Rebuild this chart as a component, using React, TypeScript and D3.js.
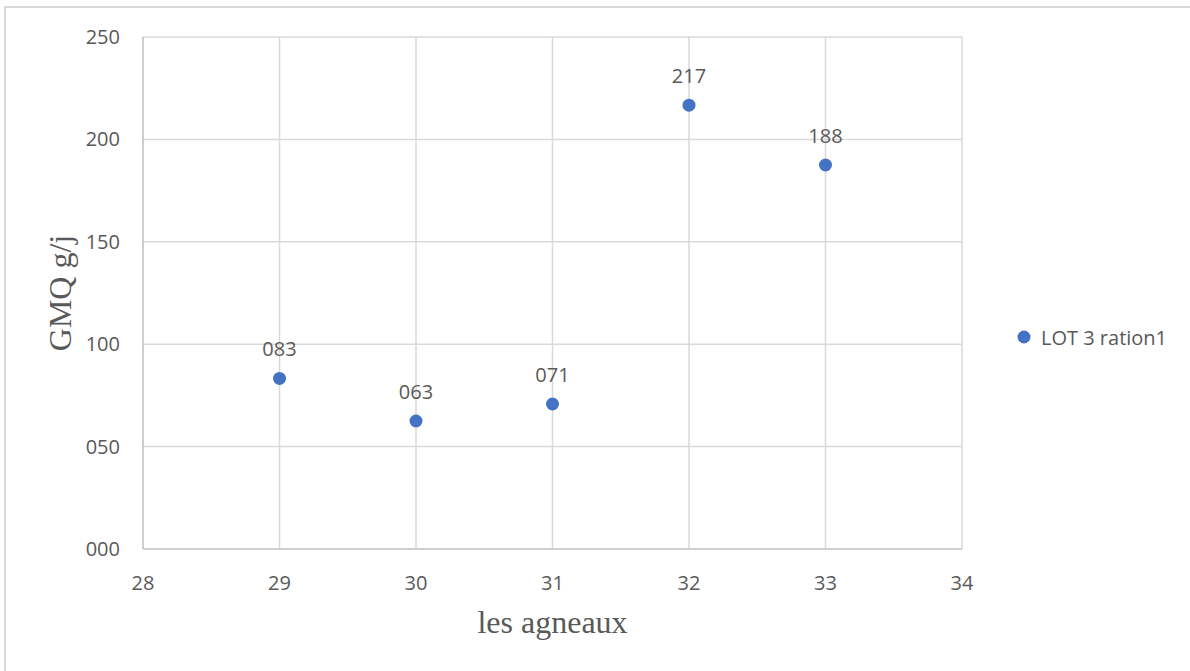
import React from "react";
import * as d3 from "d3";

const xValues = [29, 30, 31, 32, 33];
const yValues = [83.3, 62.5, 70.8, 216.7, 187.5];
const xTicks = [28, 29, 30, 31, 32, 33, 34];
const yTicks = [0, 50, 100, 150, 200, 250];
const seriesName = "LOT 3 ration1";
const xTitle = "les agneaux";
const yTitle = "GMQ g/j";

export default function App() {
  const W = 1190, H = 671;
  const left = 143, right = 962, top = 37, bottom = 549;
  const x = d3.scaleLinear().domain([28, 34]).range([left, right]);
  const y = d3.scaleLinear().domain([0, 250]).range([bottom, top]);
  const fmt = d3.format("03.0f");
  const grid = "#d9d9d9";
  const txt = "#595959";
  const sans = "'Open Sans', 'Noto Sans', sans-serif";
  const serif = "'Liberation Serif', 'Times New Roman', serif";
  const blue = "#4472C4";
  return (
    <svg width={W} height={H} style={{ position: "absolute", left: 0, top: 0, background: "#fff" }}>
      <rect x={5} y={7} width={W + 20} height={H + 20} fill="#fff" stroke="#d9d9d9" strokeWidth={2} />
      {yTicks.map((t) => (
        <g key={"y" + t}>
          <line x1={left} x2={right} y1={y(t)} y2={y(t)} stroke={t === 0 ? "#bfbfbf" : grid} strokeWidth={1.5} />
          <text x={120} y={y(t) + 7} textAnchor="end" fontFamily={sans} fontSize={20} fill={txt}>
            {fmt(t)}
          </text>
        </g>
      ))}
      {xTicks.map((t) => (
        <g key={"x" + t}>
          <line x1={x(t)} x2={x(t)} y1={top} y2={bottom} stroke={t === 28 ? "#bfbfbf" : grid} strokeWidth={1.5} />
          <text x={x(t)} y={590} textAnchor="middle" fontFamily={sans} fontSize={20} fill={txt}>
            {t}
          </text>
        </g>
      ))}
      {xValues.map((xv, i) => (
        <g key={"p" + i}>
          <circle cx={x(xv)} cy={y(yValues[i])} r={6.5} fill={blue} />
          <text x={x(xv)} y={y(yValues[i]) - 22} textAnchor="middle" fontFamily={sans} fontSize={20} fill={txt}>
            {fmt(yValues[i])}
          </text>
        </g>
      ))}
      <text
        transform={`translate(60, ${(top + bottom) / 2}) rotate(-90)`}
        textAnchor="middle"
        dy="0.35em"
        fontFamily={serif}
        fontSize={32}
        fill={txt}
      >
        {yTitle}
      </text>
      <text x={(left + right) / 2} y={633} textAnchor="middle" fontFamily={serif} fontSize={32} fill={txt}>
        {xTitle}
      </text>
      <circle cx={1024} cy={337} r={6.5} fill={blue} />
      <text x={1041} y={345} fontFamily={sans} fontSize={20} fill={txt}>
        {seriesName}
      </text>
    </svg>
  );
}
